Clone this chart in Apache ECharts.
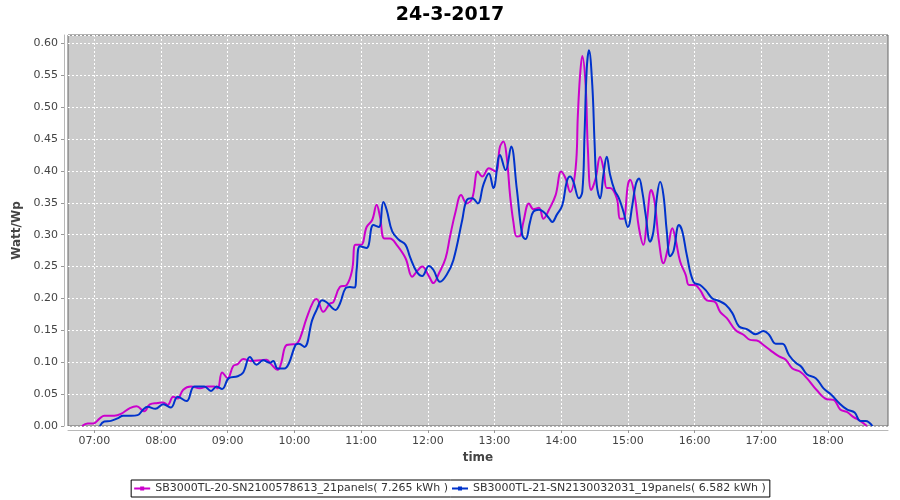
<!DOCTYPE html>
<html>
<head>
<meta charset="utf-8">
<title>24-3-2017</title>
<script src="https://cdn.jsdelivr.net/npm/echarts@6/dist/echarts.min.js"></script>
<style>
  html, body { margin: 0; padding: 0; background: #fff; }
  #chart { width: 900px; height: 500px; }
</style>
</head>
<body>
<div id="chart"></div>
<script>
// hours shown on the time axis
const hourTicks = [7, 8, 9, 10, 11, 12, 13, 14, 15, 16, 17, 18];

// inverter 20 (magenta)
const nameM = 'SB3000TL-20-SN2100578613_21panels( 7.265 kWh )';
const timesM = [
  '06:49', '06:54', '06:59', '07:05', '07:09', '07:18', '07:24', '07:32', '07:38', '07:45',
  '07:50', '07:57', '08:02', '08:06', '08:11', '08:15', '08:20', '08:27', '08:35', '08:42',
  '08:48', '08:51', '08:55', '09:00', '09:05', '09:09', '09:14', '09:21', '09:29', '09:35',
  '09:39', '09:45', '09:48', '09:53', '09:59', '10:02', '10:05', '10:11', '10:17', '10:20',
  '10:26', '10:32', '10:35', '10:41', '10:47', '10:52', '10:55', '11:00', '11:05', '11:10',
  '11:14', '11:17', '11:21', '11:26', '11:32', '11:40', '11:46', '11:50', '11:55', '12:01',
  '12:05', '12:10', '12:16', '12:20', '12:25', '12:30', '12:35', '12:40', '12:45', '12:49',
  '12:55', '13:01', '13:05', '13:08', '13:11', '13:14', '13:17', '13:20', '13:23', '13:26',
  '13:31', '13:35', '13:40', '13:44', '13:49', '13:55', '14:00', '14:04', '14:08', '14:13',
  '14:15', '14:17', '14:19', '14:22', '14:24', '14:27', '14:31', '14:35', '14:38', '14:41',
  '14:44', '14:50', '14:53', '14:56', '15:00', '15:02', '15:06', '15:10', '15:14', '15:17',
  '15:21', '15:24', '15:28', '15:32', '15:36', '15:40', '15:43', '15:47', '15:52', '15:55',
  '16:00', '16:05', '16:11', '16:18', '16:23', '16:29', '16:37', '16:44', '16:50', '16:56',
  '17:02', '17:08', '17:16', '17:22', '17:28', '17:35', '17:41', '17:50', '17:59', '18:05',
  '18:11', '18:17', '18:23', '18:29', '18:35'
];
const valuesM = [
  0.000, 0.004, 0.004, 0.012, 0.016, 0.016, 0.019, 0.028, 0.031, 0.023,
  0.034, 0.036, 0.037, 0.033, 0.046, 0.043, 0.057, 0.062, 0.059, 0.062,
  0.062, 0.059, 0.084, 0.075, 0.094, 0.097, 0.105, 0.102, 0.103, 0.104,
  0.097, 0.088, 0.098, 0.127, 0.128, 0.129, 0.137, 0.169, 0.195, 0.199,
  0.179, 0.192, 0.194, 0.218, 0.221, 0.245, 0.284, 0.284, 0.312, 0.323,
  0.347, 0.328, 0.294, 0.294, 0.284, 0.263, 0.234, 0.242, 0.250, 0.235,
  0.224, 0.239, 0.263, 0.297, 0.336, 0.362, 0.349, 0.357, 0.399, 0.391,
  0.404, 0.399, 0.438, 0.446, 0.422, 0.362, 0.320, 0.297, 0.298, 0.320,
  0.349, 0.340, 0.342, 0.325, 0.339, 0.362, 0.399, 0.388, 0.367, 0.404,
  0.487, 0.550, 0.580, 0.534, 0.435, 0.370, 0.388, 0.422, 0.404, 0.373,
  0.373, 0.357, 0.325, 0.325, 0.378, 0.386, 0.362, 0.310, 0.284, 0.320,
  0.370, 0.352, 0.289, 0.255, 0.279, 0.310, 0.292, 0.258, 0.237, 0.221,
  0.221, 0.213, 0.197, 0.195, 0.179, 0.169, 0.150, 0.143, 0.135, 0.134,
  0.127, 0.119, 0.109, 0.104, 0.090, 0.085, 0.075, 0.056, 0.042, 0.041,
  0.026, 0.022, 0.014, 0.008, 0.000
];

// inverter 21 (blue)
const nameB = 'SB3000TL-21-SN2130032031_19panels( 6.582 kWh )';
const timesB = [
  '07:05', '07:09', '07:15', '07:21', '07:26', '07:33', '07:39', '07:44', '07:48', '07:55',
  '08:02', '08:09', '08:15', '08:23', '08:30', '08:39', '08:45', '08:50', '08:55', '09:01',
  '09:09', '09:14', '09:20', '09:26', '09:32', '09:38', '09:41', '09:45', '09:51', '09:55',
  '10:01', '10:04', '10:09', '10:16', '10:20', '10:25', '10:29', '10:37', '10:41', '10:46',
  '10:50', '10:54', '10:56', '10:59', '11:05', '11:11', '11:16', '11:20', '11:23', '11:28',
  '11:34', '11:40', '11:44', '11:50', '11:55', '12:01', '12:05', '12:11', '12:17', '12:23',
  '12:31', '12:35', '12:40', '12:45', '12:50', '12:55', '12:59', '13:05', '13:10', '13:15',
  '13:20', '13:25', '13:28', '13:32', '13:35', '13:40', '13:44', '13:49', '13:52', '13:56',
  '14:01', '14:05', '14:08', '14:11', '14:16', '14:19', '14:21', '14:23', '14:25', '14:28',
  '14:30', '14:32', '14:35', '14:38', '14:41', '14:44', '14:48', '14:52', '14:56', '15:00',
  '15:04', '15:07', '15:10', '15:13', '15:16', '15:20', '15:23', '15:26', '15:29', '15:32',
  '15:35', '15:38', '15:41', '15:46', '15:49', '15:53', '15:59', '16:05', '16:10', '16:16',
  '16:22', '16:28', '16:34', '16:40', '16:47', '16:55', '17:02', '17:07', '17:13', '17:19',
  '17:25', '17:31', '17:36', '17:41', '17:49', '17:56', '18:03', '18:10', '18:17', '18:24',
  '18:29', '18:34', '18:40'
];
const valuesB = [
  0.000, 0.007, 0.008, 0.012, 0.016, 0.016, 0.017, 0.026, 0.030, 0.027,
  0.034, 0.029, 0.046, 0.039, 0.062, 0.062, 0.055, 0.062, 0.058, 0.075,
  0.078, 0.084, 0.108, 0.096, 0.103, 0.099, 0.102, 0.090, 0.090, 0.098,
  0.127, 0.129, 0.124, 0.166, 0.182, 0.197, 0.194, 0.182, 0.192, 0.216,
  0.218, 0.217, 0.245, 0.282, 0.279, 0.315, 0.312, 0.351, 0.339, 0.305,
  0.292, 0.284, 0.265, 0.242, 0.235, 0.251, 0.245, 0.226, 0.237, 0.260,
  0.323, 0.354, 0.357, 0.349, 0.378, 0.396, 0.373, 0.425, 0.401, 0.438,
  0.373, 0.299, 0.293, 0.320, 0.336, 0.339, 0.336, 0.326, 0.320, 0.331,
  0.346, 0.383, 0.391, 0.383, 0.357, 0.367, 0.456, 0.560, 0.589, 0.534,
  0.446, 0.378, 0.357, 0.394, 0.422, 0.394, 0.370, 0.357, 0.336, 0.312,
  0.346, 0.378, 0.388, 0.367, 0.331, 0.289, 0.305, 0.357, 0.383, 0.362,
  0.305, 0.266, 0.274, 0.315, 0.305, 0.268, 0.226, 0.221, 0.213, 0.200,
  0.196, 0.190, 0.177, 0.156, 0.152, 0.144, 0.149, 0.143, 0.129, 0.129,
  0.111, 0.099, 0.093, 0.081, 0.075, 0.059, 0.049, 0.036, 0.026, 0.021,
  0.008, 0.008, 0.000
];

function toHours(t) {
  const p = t.split(':');
  return Number(p[0]) + Number(p[1]) / 60;
}
function pairs(times, values) {
  return times.map(function (t, i) { return [toHours(t), values[i]]; });
}

const font = 'DejaVu Sans';

let myChart = echarts.init(document.getElementById('chart'));
const option = {
  animation: false,
  backgroundColor: '#ffffff',
  textStyle: { fontFamily: font },
  color: ['#cc00cc', '#0033cc'],
  title: {
    text: '24-3-2017',
    left: 'center',
    top: 1,
    textStyle: { fontFamily: font, fontSize: 19, fontWeight: 'bold', color: '#000' }
  },
  legend: {
    data: [nameM, nameB],
    bottom: 3,
    left: 'center',
    selectedMode: false,
    icon: 'path://M0,1H6V0H10V1H16V3H10V4H6V3H0Z',
    itemWidth: 16,
    itemHeight: 4,
    itemGap: 4,
    borderColor: '#000',
    borderWidth: 1,
    borderRadius: 0,
    padding: [3, 4, 3, 3],
    textStyle: { fontFamily: font, fontSize: 11, color: '#333' }
  },
  grid: {
    left: 68,
    right: 12,
    top: 35,
    bottom: 74,
    show: true,
    backgroundColor: '#cccccc',
    borderColor: '#666666',
    borderWidth: 1,
    containLabel: false,
    outerBoundsMode: 'none'
  },
  xAxis: {
    type: 'value',
    min: 6.606,
    max: 18.9,
    offset: 4,
    name: 'time',
    nameLocation: 'middle',
    nameGap: 22,
    nameTextStyle: { fontFamily: font, fontSize: 12, fontWeight: 'bold', color: '#444' },
    axisLine: { show: true, onZero: false, lineStyle: { color: '#b8b8b8', width: 1 } },
    axisTick: { show: true, length: 3, customValues: hourTicks, lineStyle: { color: '#999' } },
    axisLabel: {
      customValues: hourTicks,
      color: '#444',
      fontSize: 11,
      margin: 6,
      formatter: function (v) { return (v < 10 ? '0' : '') + v + ':00'; }
    },
    splitLine: { show: true, lineStyle: { color: '#ffffff', width: 1, type: [2, 2] } }
  },
  yAxis: {
    type: 'value',
    min: 0,
    max: 0.613,
    interval: 0.05,
    offset: 4,
    name: 'Watt/Wp',
    nameLocation: 'middle',
    nameGap: 37,
    nameTextStyle: { fontFamily: font, fontSize: 12, fontWeight: 'bold', color: '#444' },
    axisLine: { show: true, lineStyle: { color: '#b8b8b8', width: 1 } },
    axisTick: { show: true, length: 3, lineStyle: { color: '#999' } },
    axisLabel: {
      color: '#444',
      fontSize: 11,
      margin: 6,
      showMaxLabel: false,
      formatter: function (v) { return v.toFixed(2); }
    },
    splitLine: { show: true, lineStyle: { color: '#ffffff', width: 1, type: [2, 2] } }
  },
  series: [
    {
      name: nameM,
      type: 'line',
      data: pairs(timesM, valuesM),
      smooth: 0.4,
      showSymbol: false,
      lineStyle: { width: 2 }
    },
    {
      name: nameB,
      type: 'line',
      data: pairs(timesB, valuesB),
      smooth: 0.4,
      showSymbol: false,
      lineStyle: { width: 2 }
    }
  ]
};
myChart.setOption(option, true);
window.onresize = myChart.resize;
</script>
</body>
</html>
